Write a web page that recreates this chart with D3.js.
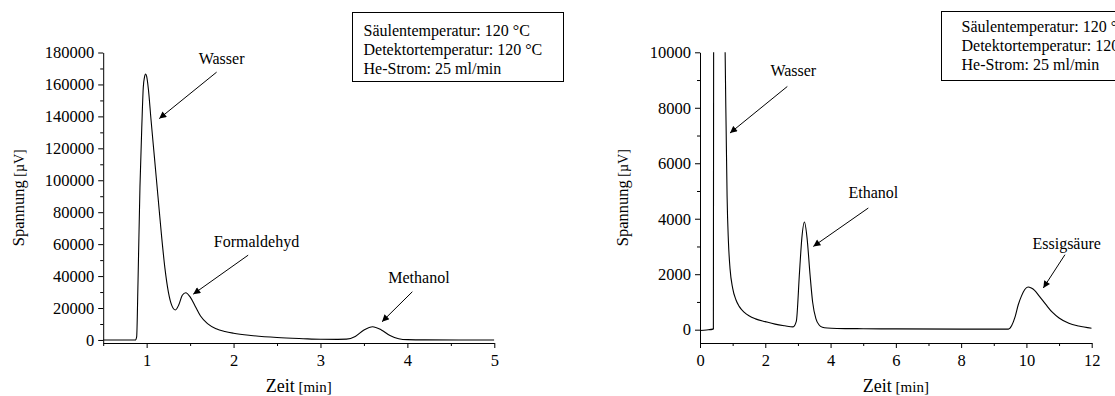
<!DOCTYPE html>
<html><head><meta charset="utf-8">
<script src="https://cdn.jsdelivr.net/npm/d3@7"></script>
<style>
body{margin:0;background:#fff}
svg{display:block}
text{font-family:"Liberation Serif","Times New Roman",serif;fill:#000}
</style>
</head><body>
<svg id="c" width="1115" height="396"></svg>
<script>
// ---- Left chromatogram (Formaldehyd / Methanol) ----
const leftTime   = [0.5, 0.87, 0.885, 0.90, 0.923, 0.945, 0.961, 0.975, 0.988, 1.0, 1.02, 1.05, 1.09, 1.13, 1.17, 1.21, 1.25, 1.29, 1.33, 1.37, 1.41, 1.45, 1.5, 1.56, 1.62, 1.7, 1.8, 1.9, 2.0, 2.2, 2.5, 2.8, 3.0, 3.2, 3.3, 3.4, 3.5, 3.6, 3.7, 3.8, 3.9, 4.0, 4.2, 5.0];
const leftSignal = [0, 0, 2000, 35000, 96000, 135000, 158000, 164500, 166500, 165000, 157000, 138000, 114000, 90000, 66000, 45000, 30000, 21500, 18800, 22000, 28000, 29600, 27000, 21000, 15000, 10200, 7000, 5300, 4200, 2800, 1500, 800, 450, 400, 500, 2200, 6200, 8300, 6300, 2800, 800, 200, 50, 0];
const leftXTicks = [1, 2, 3, 4, 5];
const leftXMinor = [0.5, 1.5, 2.5, 3.5, 4.5];
const leftYTicks = [0, 20000, 40000, 60000, 80000, 100000, 120000, 140000, 160000, 180000];
const leftYMinor = [10000, 30000, 50000, 70000, 90000, 110000, 130000, 150000, 170000];
const leftLabels = ["Wasser", "Formaldehyd", "Methanol"];
const leftLabelT = [1.862, 2.264, 4.133];
const leftLabelV = [173100, 58300, 35800];
const leftArrowFromT = [1.805, 2.168, 4.057];
const leftArrowFromV = [167700, 53100, 30200];
const leftArrowToT = [1.145, 1.536, 3.708];
const leftArrowToV = [138600, 28700, 11400];

// ---- Right chromatogram (Ethanol / Essigsäure) ----
const rightTime   = [0, 0.2, 0.40, 0.41, 0.43, 0.55, 0.72, 0.77, 0.80, 0.83, 0.87, 0.92, 1.0, 1.1, 1.2, 1.35, 1.5, 1.7, 2.0, 2.3, 2.6, 2.85, 2.95, 3.05, 3.12, 3.2, 3.28, 3.37, 3.45, 3.55, 3.65, 3.75, 3.9, 4.2, 5, 6, 8, 9.45, 9.55, 9.65, 9.75, 9.85, 9.95, 10.05, 10.15, 10.25, 10.4, 10.6, 10.8, 11.0, 11.3, 11.6, 12];
const rightSignal = [-30, -10, 20, 30, 30000, 200000, 20000, 10000, 7300, 4800, 3200, 2200, 1500, 1080, 840, 630, 500, 390, 290, 200, 140, 100, 300, 2100, 3300, 3880, 3300, 2000, 1000, 400, 170, 90, 60, 45, 35, 28, 22, 22, 150, 450, 900, 1220, 1450, 1540, 1500, 1420, 1200, 900, 620, 420, 230, 130, 50];
const rightXTicks = [0, 2, 4, 6, 8, 10, 12];
const rightXMinor = [1, 3, 5, 7, 9, 11];
const rightYTicks = [0, 2000, 4000, 6000, 8000, 10000];
const rightYMinor = [1000, 3000, 5000, 7000, 9000];
const rightLabels = ["Wasser", "Ethanol", "Essigsäure"];
const rightLabelT = [2.858, 5.31, 11.234];
const rightLabelV = [9130, 4746, 2908];
const rightArrowFromT = [2.675, 5.156, 11.18];
const rightArrowFromV = [8768, 4386, 2703];
const rightArrowToT = [0.919, 3.471, 10.518];
const rightArrowToV = [7089, 3002, 1503];

const conditions = ["Säulentemperatur: 120 °C", "Detektortemperatur: 120 °C", "He-Strom: 25 ml/min"];

const svg = d3.select("#c");
const defs = svg.append("defs");
defs.append("marker").attr("id","ah").attr("viewBox","0 0 10 10")
  .attr("refX",10).attr("refY",5).attr("markerWidth",9).attr("markerHeight",7)
  .attr("markerUnits","userSpaceOnUse").attr("orient","auto")
  .append("path").attr("d","M0,0 L10,5 L0,10 z").attr("fill","#000");

function chart(o){
  const g = svg.append("g");
  const x = d3.scaleLinear().domain(o.xDomain).range([o.left, o.right]);
  const y = d3.scaleLinear().domain(o.yDomain).range([o.bottom, o.top]);
  const clipId = "clip"+o.id;
  defs.append("clipPath").attr("id",clipId).append("rect")
    .attr("x",o.left).attr("y",o.top).attr("width",o.right-o.left).attr("height",o.bottom-o.top);

  // axes
  g.append("g").attr("transform",`translate(0,${o.bottom})`)
    .call(d3.axisBottom(x).tickValues(o.xTicks).tickSize(5).tickSizeOuter(0).tickPadding(6).tickFormat(d3.format("d")));
  g.append("g").attr("transform",`translate(0,${o.bottom})`)
    .call(d3.axisBottom(x).tickValues(o.xMinor).tickSize(3).tickSizeOuter(0).tickFormat(""))
    .select(".domain").remove();
  g.append("g").attr("transform",`translate(${o.left},0)`)
    .call(d3.axisLeft(y).tickValues(o.yTicks).tickSize(5).tickSizeOuter(0).tickPadding(4).tickFormat(d3.format("d")));
  g.append("g").attr("transform",`translate(${o.left},0)`)
    .call(d3.axisLeft(y).tickValues(o.yMinor).tickSize(3).tickSizeOuter(0).tickFormat(""))
    .select(".domain").remove();
  g.selectAll(".tick text").attr("font-family","Liberation Serif").attr("font-size",16.5);
  g.selectAll(".domain, .tick line").attr("stroke","#000").attr("stroke-width",1);

  // curve
  const pts = o.t.map((t,i)=>[t,o.v[i]]);
  g.append("path").datum(pts).attr("clip-path",`url(#${clipId})`)
    .attr("fill","none").attr("stroke","#000").attr("stroke-width",1.1)
    .attr("d", d3.line().x(d=>x(d[0])).y(d=>y(d[1])).curve(d3.curveMonotoneX));

  // annotations
  o.labels.forEach((lab,i)=>{
    g.append("text").attr("x",x(o.lt[i])).attr("y",y(o.lv[i]))
      .attr("text-anchor","middle").attr("font-size",16).text(lab);
    g.append("line").attr("x1",x(o.aft[i])).attr("y1",y(o.afv[i]))
      .attr("x2",x(o.att[i])).attr("y2",y(o.atv[i]))
      .attr("stroke","#000").attr("stroke-width",1).attr("marker-end","url(#ah)");
  });

  // axis titles
  const xt = g.append("text").attr("x",(o.left+o.right)/2).attr("y",392).attr("text-anchor","middle");
  xt.append("tspan").attr("font-size",18).text("Zeit");
  xt.append("tspan").attr("font-size",15).text(" [min]");
  const yt = g.append("text").attr("transform",`translate(${o.ytx},${(o.top+o.bottom)/2}) rotate(-90)`)
    .attr("text-anchor","middle");
  yt.append("tspan").attr("font-size",16.5).text("Spannung");
  yt.append("tspan").attr("font-size",14).text(" [µV]");

  // conditions box
  g.append("rect").attr("x",o.box[0]).attr("y",o.box[1]).attr("width",o.box[2]).attr("height",o.box[3])
    .attr("fill","#fff").attr("stroke","#000").attr("stroke-width",1);
  conditions.forEach((c,i)=>{
    g.append("text").attr("x",o.box[0]+o.box[4]).attr("y",o.box[1]+o.box[5]+i*19)
      .attr("font-size",16).text(c);
  });
}

chart({id:"L", left:103.2, right:494.3, top:52.5, bottom:343, ytx:24,
  xDomain:[0.5,5], yDomain:[-1900,180000],
  xTicks:leftXTicks, xMinor:leftXMinor, yTicks:leftYTicks, yMinor:leftYMinor,
  t:leftTime, v:leftSignal, labels:leftLabels, lt:leftLabelT, lv:leftLabelV,
  aft:leftArrowFromT, afv:leftArrowFromV, att:leftArrowToT, atv:leftArrowToV,
  box:[352.5,12.5,211,69,11,23.5]});

chart({id:"R", left:700, right:1091.7, top:52.3, bottom:343, ytx:628,
  xDomain:[0,12], yDomain:[-480,10000],
  xTicks:rightXTicks, xMinor:rightXMinor, yTicks:rightYTicks, yMinor:rightYMinor,
  t:rightTime, v:rightSignal, labels:rightLabels, lt:rightLabelT, lv:rightLabelV,
  aft:rightArrowFromT, afv:rightArrowFromV, att:rightArrowToT, atv:rightArrowToV,
  box:[941.5,11.5,300,69,20,20]});
</script>
</body></html>
